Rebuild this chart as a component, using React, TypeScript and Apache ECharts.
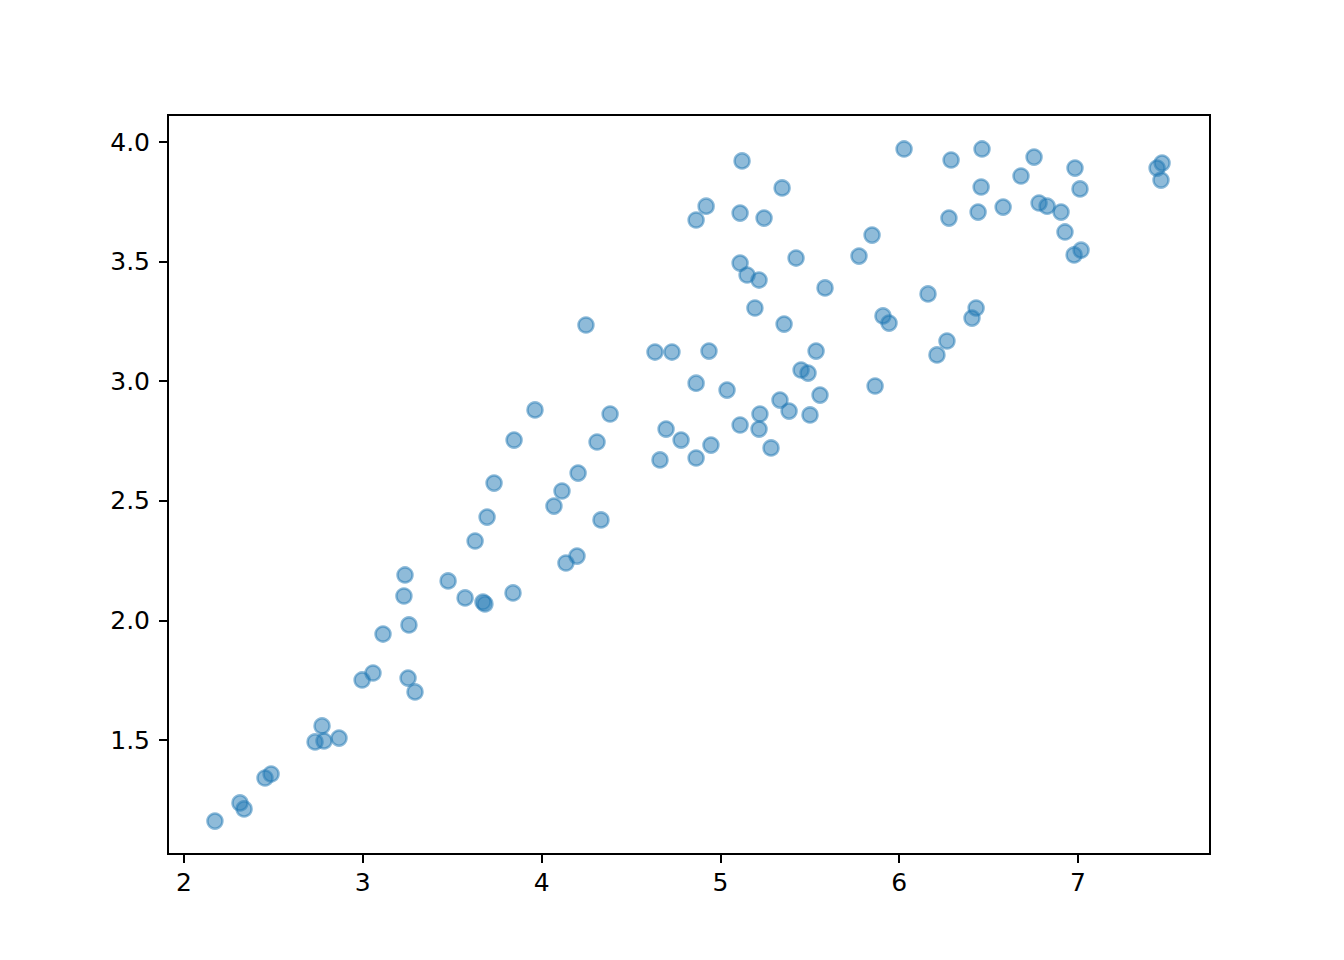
import React, { useEffect, useRef } from "react";
import * as echarts from "echarts";

const xValues = [
  2.173, 2.313, 2.336, 2.453, 2.487, 2.733, 2.772, 2.783, 2.867, 2.996,
  3.057, 3.253, 3.292, 3.113, 3.258, 3.23, 3.236, 3.477, 3.572, 3.672,
  3.683, 3.84, 3.628, 3.695, 3.734, 3.846, 3.963, 4.069, 4.114, 4.204,
  4.136, 4.198, 4.332, 4.31, 4.383, 4.248, 4.634, 4.729, 4.662, 4.696,
  4.78, 4.864, 4.864, 4.947, 4.936, 5.037, 5.11, 5.216, 5.221, 5.283,
  5.333, 5.384, 5.501, 5.557, 5.451, 5.49, 5.535, 5.356, 5.193, 5.216,
  5.149, 5.11, 5.423, 5.585, 4.864, 4.92, 5.11, 5.244, 5.121, 5.345,
  5.775, 5.848, 5.865, 5.909, 5.943, 6.027, 6.161, 6.211, 6.267, 6.29,
  6.278, 6.441, 6.458, 6.463, 6.407, 6.43, 6.581, 6.681, 6.754, 6.782,
  6.827, 6.905, 6.927, 6.978, 7.017, 6.983, 7.011, 7.442, 7.47, 7.464,
];
const yValues = [
  1.161, 1.237, 1.212, 1.341, 1.358, 1.492, 1.559, 1.496, 1.508, 1.751,
  1.78, 1.759, 1.701, 1.943, 1.981, 2.102, 2.19, 2.165, 2.094, 2.077,
  2.069, 2.115, 2.332, 2.432, 2.574, 2.754, 2.88, 2.478, 2.541, 2.616,
  2.24, 2.269, 2.42, 2.746, 2.863, 3.235, 3.122, 3.122, 2.671, 2.8,
  2.754, 2.992, 2.679, 2.733, 3.126, 2.963, 2.817, 2.8, 2.863, 2.721,
  2.921, 2.875, 2.859, 2.942, 3.047, 3.034, 3.126, 3.239, 3.306, 3.423,
  3.444, 3.494, 3.515, 3.39, 3.674, 3.732, 3.703, 3.682, 3.921, 3.808,
  3.523, 3.611, 2.98, 3.273, 3.243, 3.971, 3.365, 3.11, 3.168, 3.925,
  3.682, 3.707, 3.812, 3.971, 3.264, 3.306, 3.728, 3.858, 3.937, 3.745,
  3.732, 3.707, 3.624, 3.528, 3.548, 3.891, 3.804, 3.891, 3.912, 3.841,
];
const xTicks = [2, 3, 4, 5, 6, 7];
const yTicks = [1.5, 2.0, 2.5, 3.0, 3.5, 4.0];

export default function App() {
  const ref = useRef<HTMLDivElement>(null);
  useEffect(() => {
    if (!ref.current) return;
    const chart = echarts.init(ref.current, undefined, { renderer: "svg" });
    const data = xValues.map((x, i) => [x, yValues[i]]);
    const font = { fontFamily: "DejaVu Sans", fontSize: 25, color: "#000" };
    chart.setOption({
      animation: false,
      backgroundColor: "#fff",
      grid: {
        left: 168,
        top: 115,
        width: 1042,
        height: 739,
        show: true,
        borderColor: "#000",
        borderWidth: 2,
        backgroundColor: "transparent",
      },
      xAxis: {
        type: "value",
        min: 1.9105,
        max: 7.738,
        splitLine: { show: false },
        axisLine: { show: true, lineStyle: { color: "#000", width: 2 } },
        axisTick: {
          show: true,
          length: 9,
          lineStyle: { color: "#000", width: 2 },
          customValues: xTicks,
        },
        axisLabel: {
          ...font,
          margin: 16,
          customValues: xTicks,
          formatter: (v: number) => String(v),
        },
      },
      yAxis: {
        type: "value",
        min: 1.0234,
        max: 4.113,
        splitLine: { show: false },
        axisLine: { show: true, lineStyle: { color: "#000", width: 2 } },
        axisTick: {
          show: true,
          length: 9,
          lineStyle: { color: "#000", width: 2 },
          customValues: yTicks,
        },
        axisLabel: {
          ...font,
          margin: 18,
          customValues: yTicks,
          formatter: (v: number) => v.toFixed(1),
        },
      },
      series: [
        {
          type: "scatter",
          data,
          symbol: "circle",
          symbolSize: 15,
          itemStyle: {
            color: "rgba(31,119,180,0.5)",
            borderColor: "rgba(31,119,180,0.5)",
            borderWidth: 2.5,
            opacity: 1,
          },
        },
      ],
    });
    return () => chart.dispose();
  }, []);
  return (
    <div
      ref={ref}
      style={{ position: "fixed", left: 0, top: 0, width: 1344, height: 960 }}
    />
  );
}
